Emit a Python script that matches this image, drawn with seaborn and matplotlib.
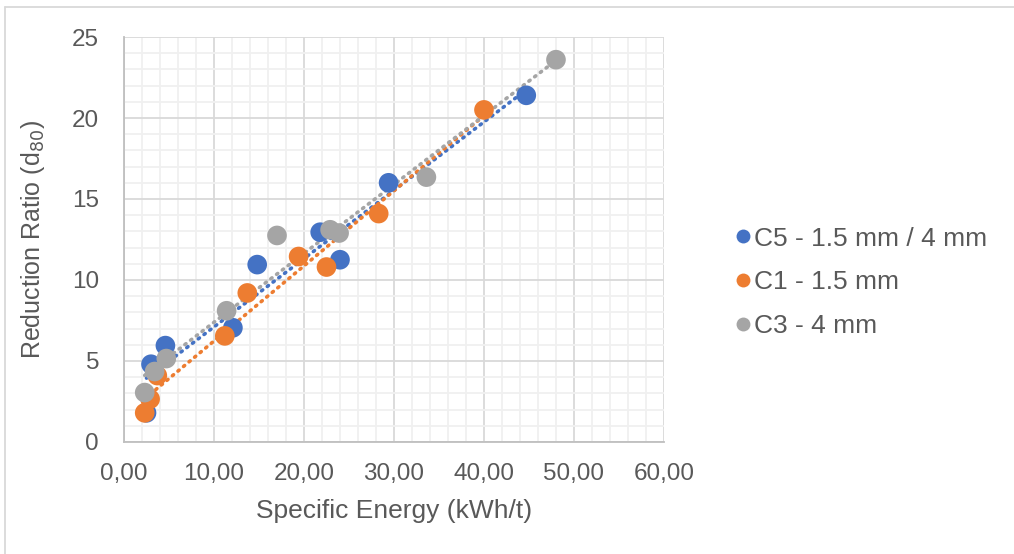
import numpy as np
import pandas as pd
import matplotlib
matplotlib.use("Agg")
import matplotlib.pyplot as plt
from matplotlib.ticker import MultipleLocator, FuncFormatter
from matplotlib.lines import Line2D
import seaborn as sns

# Specific energy (kWh/t) and reduction ratio (d80) per test series
c5_energy = [2.5, 3.0, 4.6, 12.1, 14.8, 21.8, 24.0, 29.4, 44.7]
c5_ratio = [1.8, 4.8, 5.95, 7.05, 10.95, 12.95, 11.25, 16.0, 21.4]

c1_energy = [2.3, 2.9, 3.7, 11.2, 13.7, 19.4, 22.5, 28.3, 40.0]
c1_ratio = [1.8, 2.65, 4.1, 6.55, 9.2, 11.45, 10.8, 14.1, 20.5]

c3_energy = [2.3, 3.4, 4.7, 11.4, 17.0, 22.9, 23.9, 33.6, 48.0]
c3_ratio = [3.05, 4.35, 5.15, 8.1, 12.75, 13.1, 12.9, 16.35, 23.6]

series_names = ["C5 - 1.5 mm / 4 mm", "C1 - 1.5 mm", "C3 - 4 mm"]
series_colors = ["#4472C4", "#ED7D31", "#A5A5A5"]

frames = []
for name, xs, ys in zip(series_names,
                        [c5_energy, c1_energy, c3_energy],
                        [c5_ratio, c1_ratio, c3_ratio]):
    frames.append(pd.DataFrame({"energy": xs, "ratio": ys, "series": name}))
df = pd.concat(frames, ignore_index=True)

sns.set_theme(style="white")
plt.rcParams["font.family"] = ["Liberation Sans", "DejaVu Sans"]
text_color = "#595959"

fig = plt.figure(figsize=(10.14, 5.54), dpi=100)
ax = fig.add_axes([0.1223, 0.2022, 0.5325, 0.731])

# Linear trendlines (dotted), drawn beneath the markers
for name, color in zip(series_names, series_colors):
    sub = df[df["series"] == name]
    k, b = np.polyfit(sub["energy"], sub["ratio"], 1)
    xx = np.linspace(sub["energy"].min(), sub["energy"].max(), 50)
    ax.plot(xx, k * xx + b, color=color, lw=2.6, ls=(0, (0.4, 1.6)),
            dash_capstyle="round", zorder=2)

sns.scatterplot(data=df, x="energy", y="ratio", hue="series",
                hue_order=series_names, palette=series_colors,
                s=200, edgecolor="none", linewidth=0, alpha=1,
                legend=False, ax=ax, zorder=3)

ax.set_xlim(0, 60)
ax.set_ylim(0, 25)
ax.xaxis.set_major_locator(MultipleLocator(10))
ax.xaxis.set_minor_locator(MultipleLocator(2))
ax.yaxis.set_major_locator(MultipleLocator(5))
ax.yaxis.set_minor_locator(MultipleLocator(1))
ax.xaxis.set_major_formatter(FuncFormatter(lambda v, p: f"{v:.2f}".replace(".", ",")))

ax.grid(which="major", color="#D9D9D9", lw=1.3, zorder=0)
ax.grid(which="minor", color="#F0F0F0", lw=1.3, zorder=0)
ax.set_axisbelow(True)

for side in ["top", "right"]:
    ax.spines[side].set_visible(False)
for side in ["left", "bottom"]:
    ax.spines[side].set_color("#BFBFBF")
    ax.spines[side].set_linewidth(1.3)

ax.tick_params(axis="both", which="major", direction="out", length=6, width=1.2,
               color="#BFBFBF", labelsize=17.5, labelcolor=text_color)
ax.tick_params(axis="x", which="major", pad=9)
ax.tick_params(axis="y", which="major", pad=12)
ax.tick_params(axis="both", which="minor", length=0)

ax.set_xlabel("Specific Energy (kWh/t)", fontsize=19, color=text_color, labelpad=10)
ax.set_ylabel("Reduction Ratio (d$_{80}$)", fontsize=18, color=text_color, labelpad=18)

handles = [Line2D([0], [0], marker="o", ls="none", markersize=10,
                  markerfacecolor=c, markeredgecolor="none") for c in series_colors]
fig.legend(handles, series_names, loc="upper left", bbox_to_anchor=(0.712, 0.61),
           frameon=False, fontsize=19, labelcolor=text_color, handletextpad=0.0,
           handlelength=0.8, labelspacing=0.75, borderaxespad=0)

# Chart-area outline
fig.add_artist(Line2D([0.005, 1.0], [1 - 7 / 554, 1 - 7 / 554], color="#D9D9D9",
                      lw=1.3, transform=fig.transFigure))
fig.add_artist(Line2D([0.005, 0.005], [0.0, 1 - 7 / 554], color="#D9D9D9",
                      lw=1.3, transform=fig.transFigure))

fig.savefig("out.png", dpi=100, facecolor="white")
